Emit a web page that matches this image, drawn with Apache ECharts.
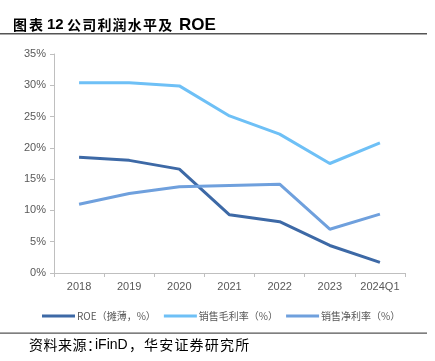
<!DOCTYPE html>
<html><head><meta charset="utf-8">
<script src="https://cdn.jsdelivr.net/npm/echarts@6/dist/echarts.min.js"></script>
<style>html,body{margin:0;padding:0;background:#fff}#c{width:435px;height:361px}</style>
</head><body><div id="c"></div>
<script>
const categories = ['2018','2019','2020','2021','2022','2023','2024Q1'];
const roe = [18.5, 18.0, 16.6, 9.3, 8.2, 4.4, 1.7];
const grossMargin = [30.4, 30.4, 29.9, 25.1, 22.2, 17.5, 20.8];
const netMargin = [11.0, 12.7, 13.8, 14.0, 14.2, 7.0, 9.4];
const seriesNames = ['ROE（摊薄，%）', '销售毛利率（%）', '销售净利率（%）'];
const yTicks = [0, 5, 10, 15, 20, 25, 30, 35];

const chart = echarts.init(document.getElementById('c'), null, {renderer:'canvas'});
const lab = {color:'#595959', fontSize:11, fontFamily:'Liberation Sans, Arial, sans-serif'};
const cjk = 'Noto Sans CJK SC';
const lat = 'Liberation Sans';
function txt(s, x, y, size, fam, bold){
  return {type:'text', x:x, y:y, style:{text:s, fill:'#000', fontSize:size, fontFamily:fam, fontWeight:bold?'bold':'normal', textVerticalAlign:'middle'}};
}
function spaced(s, x0, adv, y, size, bold){
  return s.split('').map((ch,i)=>txt(ch, x0+i*adv, y, size, cjk, bold));
}
chart.setOption({
  animation:false,
  grid:{left:54, right:30, top:54, bottom:88, containLabel:false},
  legend:{
    left:37, top:306, itemWidth:33, itemHeight:3, itemGap:8, icon:'rect',
    textStyle:{color:'#595959', fontSize:10, fontFamily:cjk, padding:[0,0,0,-3]},
    data:seriesNames
  },
  xAxis:{
    type:'category', data:categories, boundaryGap:true,
    axisLine:{lineStyle:{color:'#bfbfbf', width:1}},
    axisTick:{show:true, length:4, lineStyle:{color:'#bfbfbf'}},
    axisLabel:Object.assign({margin:8, interval:0}, lab)
  },
  yAxis:{
    type:'value', min:yTicks[0], max:yTicks[yTicks.length-1], interval:5,
    axisLine:{show:true, lineStyle:{color:'#bfbfbf', width:1}},
    axisTick:{show:true, length:4, lineStyle:{color:'#bfbfbf'}},
    splitLine:{show:false},
    axisLabel:Object.assign({margin:8, formatter:v=>v+'%'}, lab)
  },
  series:[
    {name:seriesNames[0], type:'line', data:roe, symbol:'none', lineStyle:{width:3, color:'#3d69a6'}, itemStyle:{color:'#3d69a6'}},
    {name:seriesNames[1], type:'line', data:grossMargin, symbol:'none', lineStyle:{width:3, color:'#6ec0f6'}, itemStyle:{color:'#6ec0f6'}},
    {name:seriesNames[2], type:'line', data:netMargin, symbol:'none', lineStyle:{width:3, color:'#6fa0dd'}, itemStyle:{color:'#6fa0dd'}}
  ],
  graphic:[].concat(
    spaced('图表', 13, 16, 25, 14, true),
    [txt('12', 47, 25, 15, lat, true)],
    spaced('公司利润水平及', 67, 15.2, 25, 14, true),
    [txt('ROE', 179, 25, 17, lat, true),
     {type:'rect', shape:{x:0, y:33, width:427, height:1.5}, style:{fill:'#555'}},
     {type:'rect', shape:{x:0, y:332.5, width:427, height:1.2}, style:{fill:'#555'}}],
    spaced('资料来源：', 29, 14.5, 345, 14, false),
    [txt('iFinD', 95, 345, 14, lat, false)],
    spaced('，', 129, 14, 345, 14, false),
    spaced('华安证券研究所', 144, 15.2, 345, 14, false)
  )
});
</script></body></html>
